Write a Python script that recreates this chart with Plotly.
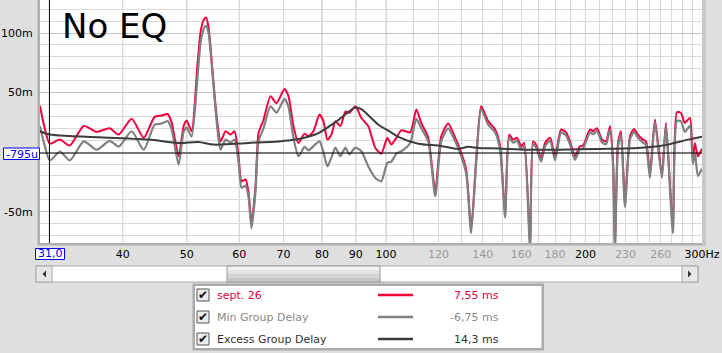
import math
import plotly.graph_objects as go

# ---------------- data ----------------
freq_hz = [29.99, 30.41, 31.04, 32.15, 33.28, 34.93, 36.55, 38.23, 39.45, 41.27,
           43.03, 44.70, 45.80, 46.77, 47.42, 48.59, 49.44, 49.96, 50.83, 51.90,
           52.45, 53.00, 53.46, 53.92, 54.49, 55.06, 55.64, 56.22, 57.21, 58.21,
           59.02, 59.85, 60.48, 61.32, 61.97, 62.62, 63.49, 64.16, 65.28, 66.89,
           68.30, 70.22, 71.20, 72.45, 73.72, 75.27, 76.32, 77.66, 79.30, 80.41,
           81.53, 82.67, 83.83, 85.30, 86.79, 88.00, 89.86, 91.75, 94.00, 96.32,
           98.35, 100.42, 101.82, 103.61, 105.42, 108.77, 111.06, 113.01, 115.79, 118.64,
           121.13, 124.11, 127.16, 129.39, 132.12, 134.43, 136.79, 139.18, 142.61, 146.11,
           148.67, 151.28, 153.40, 155.54, 157.72, 159.93, 161.61, 165.01, 166.74, 168.49,
           171.44, 173.84, 176.89, 179.99, 183.78, 186.99, 189.61, 192.93, 196.31, 198.37,
           203.25, 205.38, 208.25, 211.90, 214.86, 217.87, 220.15, 221.68, 224.00, 226.35,
           229.52, 233.54, 236.81, 240.13, 244.34, 246.89, 250.35, 254.74, 261.00, 264.66,
           271.16, 274.94, 278.79, 282.70, 287.66, 290.68, 292.70, 295.77, 300.0]

group_delay_ms = [39, 23, 7, 10.5, 5.5, 22, 17, 20, 14.7, 28,
                  12, 29.6, 30.7, 32, 25, -3.5, 21.7, 26.5, 17.5, 75,
                  101, 111, 113, 104.6, 77.7, 48, 23, 9, 17.5, 14.7,
                  17.5, -3.5, -24.5, -23, -34, -59.5, -28.7, 16, 27, 47,
                  41, 53, 47, 21.7, 7.7, 15.5, 13.3, 17.5, 31.5, 26,
                  10.5, 14.7, 26, 21.7, 34, 33, 38.5, 28.7, 21.7, 3.5,
                  -1.3, 12, 6.3, 12, 18.3, 16.6, 35.7, 24.5, 12, -33,
                  13.3, 24, 12, 2, -14.7, -64, -6.3, 38.5, 26, 19,
                  5, -52, 14.7, 10.5, 12, 5, 7.7, -78, 9, 6.3,
                  -5, 7.7, 12, -3, 19, 16.6, 9, -3.5, 5, 5.5,
                  19, 17.5, 20, 10.5, 9, 21.7, -6.3, -80, 7.7, 17.5,
                  -42, 13.3, 19.5, 14.7, 10.5, 9, -18, 27.3, -19, 24.5,
                  -64, 33.5, 33, 24.5, 28.7, -6.3, 7.7, -3.5, 3]

min_group_delay_ms = [22, 8, -7, 0.5, -7, 9, 2, 9.5, 4.6, 17.5,
                      2, 23, 24, 26, 19, -10.5, 17, 20.5, 13, 64,
                      92, 103, 106, 100, 75, 45, 18, 2, 10.5, 8,
                      10.5, -8, -30, -28, -38, -64, -33, 9, 20, 38.5,
                      33, 44.7, 38, 12, -3.5, 4.4, 1.5, 5, 9, 0,
                      -12, -4.6, 3.8, -3.5, 3.8, -2, 3.8, 0.7, -12, -21.7,
                      -24.5, -9, -8, -1.3, 0.7, 7.7, 28, 20, 9, -37,
                      9, 20, 9, -1, -18, -68, -9, 36, 23, 16.5,
                      2, -55, 12, 8, 9.5, 2, 5, -82, 6.5, 4,
                      -8, 5, 9.5, -7, 16.5, 14, 6.5, -6.5, 2.5, 3,
                      16.5, 15, 17.5, 8, 6.5, 19, -10, -84, 4, 15,
                      -46, 10.5, 17, 12, 8, 6, -21.7, 25, -21.7, 22,
                      -68, 26, 26, 17, 22, -10, 0, -20, -14]

excess_freq_hz = [29.99, 31.04, 33.28, 36.80, 43.78, 48.59, 52.09, 54.87, 61.97, 68.77,
                  73.72, 79.02, 84.71, 89.86, 91.75, 97.33, 100.77, 104.33, 111.84, 119.88,
                  128.50, 133.04, 137.74, 147.64, 163.87, 181.86, 208.98, 240.13, 257.41, 266.50,
                  285.67, 300.0]
excess_group_delay_ms = [17.5, 14.7, 13.5, 12.5, 10.5, 7.7, 8.5, 6.3, 7.7, 9,
                         11, 16, 27, 37.5, 36, 23, 18, 12.8, 7, 5.5,
                         2.7, 4.4, 3.5, 3, 2, 2, 2.7, 3.5, 5, 6.3,
                         10.5, 13]

series_names = ["sept. 26", "Min Group Delay", "Excess Group Delay"]
series_values = ["7,55 ms", "-6,75 ms", "14,3 ms"]
series_colors = ["#f2003c", "#808080", "#3c3c3c"]
legend_text_colors = ["#e8003a", "#8a8a8a", "#333333"]

x_tick_vals = [40, 50, 60, 70, 80, 90, 100, 120, 140, 160, 180, 200, 230, 260, 300]
x_tick_labels = ["40", "50", "60", "70", "80", "90", "100", "120", "140", "160", "180",
                 "200", "230", "260", "300Hz"]
x_dim_labels = [120, 140, 160, 180, 230, 260]
x_grid_minor = [30, 40, 50, 60, 70, 80, 90, 100, 110, 120, 130, 140, 150, 160, 170, 180,
                190, 200, 210, 220, 230, 240, 250, 260, 270, 280, 290, 300]
x_grid_major = [40, 50, 60, 70, 80, 90, 100, 200]
y_tick_vals = [-50, 50, 100]
y_tick_labels = ["-50m", "50m", "100m"]
cursor_hz = 31.0
cursor_ms = -0.795
cursor_x_text = "31,0"
cursor_y_text = "-795u"
title_text = "No EQ"

FONT = "DejaVu Sans"
W, H = 722, 353
PL, PR, PT, PB = 40, 702, 0, 243


def px(x):
    return (x - PL) / (PR - PL)


def py(y):
    return (PB - y) / (PB - PT)


fig = go.Figure()
fig.add_trace(go.Scatter(x=freq_hz, y=group_delay_ms, mode="lines",
                         line=dict(color=series_colors[0], width=2, shape="spline", smoothing=0.6),
                         name=series_names[0]))
fig.add_trace(go.Scatter(x=freq_hz, y=min_group_delay_ms, mode="lines",
                         line=dict(color=series_colors[1], width=2.2, shape="spline", smoothing=0.6),
                         name=series_names[1]))
fig.add_trace(go.Scatter(x=excess_freq_hz, y=excess_group_delay_ms, mode="lines",
                         line=dict(color=series_colors[2], width=2, shape="spline", smoothing=0.8),
                         name=series_names[2]))

tick_text = []
for v, t in zip(x_tick_vals, x_tick_labels):
    if v in x_dim_labels:
        tick_text.append('<span style="color:#9a9a9a">%s</span>' % t)
    else:
        tick_text.append(t)

fig.update_layout(
    width=W, height=H,
    margin=dict(l=PL, r=W - PR, t=PT, b=H - PB, pad=0),
    paper_bgcolor="#dfdfdf", plot_bgcolor="#ffffff",
    showlegend=False,
    font=dict(family=FONT, size=11, color="#000000"),
    xaxis=dict(type="log", range=[math.log10(30), math.log10(300.05)],
               tickvals=x_tick_vals, ticktext=tick_text,
               ticks="outside", ticklen=1, tickcolor="rgba(0,0,0,0)",
               tickfont=dict(family=FONT, size=11, color="#000000"),
               showgrid=True, gridcolor="#d9d9d9", gridwidth=1,
               minor=dict(tickvals=x_grid_minor, showgrid=True, gridcolor="#d9d9d9", gridwidth=1),
               showline=False, zeroline=False, fixedrange=True),
    yaxis=dict(range=[-76.3, 127.7],
               tickvals=y_tick_vals, ticktext=y_tick_labels,
               ticks="outside", ticklen=4, tickcolor="rgba(0,0,0,0)",
               tickfont=dict(family=FONT, size=11, color="#000000"),
               showgrid=True, gridcolor="#c4c4c4", gridwidth=1,
               minor=dict(dtick=10, tick0=0, showgrid=True, gridcolor="#d9d9d9", gridwidth=1),
               showline=False, zeroline=False, fixedrange=True),
)

shapes = []
# darker vertical grid lines
for g in x_grid_major:
    shapes.append(dict(type="line", xref="x", yref="paper", x0=g, x1=g, y0=0, y1=1,
                       line=dict(color="#c0c0c0", width=1), layer="below"))
# cursor lines
shapes.append(dict(type="line", xref="x", yref="paper", x0=cursor_hz, x1=cursor_hz, y0=0, y1=1,
                   line=dict(color="#000000", width=1)))
shapes.append(dict(type="line", xref="paper", yref="y", x0=0, x1=1, y0=cursor_ms, y1=cursor_ms,
                   line=dict(color="#000000", width=1)))

# plot frame
shapes.append(dict(type="rect", xref="paper", yref="paper", x0=px(37.5), x1=px(40), y0=py(245), y1=py(0),
                   fillcolor="#b0b0b0", line=dict(width=0)))
shapes.append(dict(type="rect", xref="paper", yref="paper", x0=px(37.5), x1=px(706), y0=py(245.5), y1=py(243),
                   fillcolor="#b0b0b0", line=dict(width=0)))
shapes.append(dict(type="rect", xref="paper", yref="paper", x0=px(702), x1=px(706), y0=py(245.5), y1=py(0),
                   fillcolor="#c8c8c8", line=dict(width=0)))

# cursor value boxes
shapes.append(dict(type="rect", xref="paper", yref="paper", x0=px(3.5), x1=px(39.5), y0=py(159.5), y1=py(148),
                   fillcolor="#ffffff", line=dict(color="#0000ff", width=1)))
shapes.append(dict(type="rect", xref="paper", yref="paper", x0=px(35.5), x1=px(64.5), y0=py(259.5), y1=py(248.5),
                   fillcolor="#ffffff", line=dict(color="#0000ff", width=1)))

# scrollbar
shapes.append(dict(type="rect", xref="paper", yref="paper", x0=px(36), x1=px(698), y0=py(282), y1=py(266),
                   fillcolor="#ffffff", line=dict(color="#a8a8a8", width=1)))
for bx0, bx1 in [(36, 52), (682, 698)]:
    shapes.append(dict(type="rect", xref="paper", yref="paper", x0=px(bx0), x1=px(bx1), y0=py(282), y1=py(266),
                       fillcolor="#e6e6e6", line=dict(color="#a8a8a8", width=1)))
shapes.append(dict(type="path", xref="paper", yref="paper",
                   path="M %f %f L %f %f L %f %f Z" % (px(46), py(270.5), px(42.5), py(274), px(46), py(277.5)),
                   fillcolor="#333333", line=dict(width=0)))
shapes.append(dict(type="path", xref="paper", yref="paper",
                   path="M %f %f L %f %f L %f %f Z" % (px(688), py(270.5), px(691.5), py(274), px(688), py(277.5)),
                   fillcolor="#333333", line=dict(width=0)))
thumb_bands = [(266, 270, "#f2f2f2"), (270, 274, "#e2e2e2"), (274, 278, "#d4d4d4"), (278, 282, "#c6c6c6")]
for y0, y1, c in thumb_bands:
    shapes.append(dict(type="rect", xref="paper", yref="paper", x0=px(227), x1=px(380), y0=py(y1), y1=py(y0),
                       fillcolor=c, line=dict(width=0)))
shapes.append(dict(type="rect", xref="paper", yref="paper", x0=px(227), x1=px(380), y0=py(282), y1=py(266),
                   fillcolor="rgba(0,0,0,0)", line=dict(color="#9a9a9a", width=1)))

# legend box
shapes.append(dict(type="rect", xref="paper", yref="paper", x0=px(192.5), x1=px(544), y0=py(350.5), y1=py(283.5),
                   fillcolor="#ababab", line=dict(width=0)))
shapes.append(dict(type="rect", xref="paper", yref="paper", x0=px(195), x1=px(541.5), y0=py(348), y1=py(286),
                   fillcolor="#ffffff", line=dict(width=0)))

annotations = []
row_y = [295, 317, 339]
for i in range(3):
    yc = row_y[i]
    shapes.append(dict(type="rect", xref="paper", yref="paper", x0=px(197), x1=px(209), y0=py(yc + 6), y1=py(yc - 6),
                       fillcolor="#ececec", line=dict(color="#555555", width=1)))
    shapes.append(dict(type="line", xref="paper", yref="paper", x0=px(378), x1=px(413), y0=py(yc), y1=py(yc),
                       line=dict(color=series_colors[i], width=2.5)))
    annotations.append(dict(xref="paper", yref="paper", x=px(203), y=py(yc), text="\u2714",
                            showarrow=False, xanchor="center", yanchor="middle",
                            font=dict(family=FONT, size=12, color="#111111")))
    annotations.append(dict(xref="paper", yref="paper", x=px(215), y=py(yc), text=series_names[i],
                            showarrow=False, xanchor="left", yanchor="middle",
                            font=dict(family=FONT, size=11, color=legend_text_colors[i])))
    annotations.append(dict(xref="paper", yref="paper", x=px(501), y=py(yc), text=series_values[i],
                            showarrow=False, xanchor="right", yanchor="middle",
                            font=dict(family=FONT, size=11, color=legend_text_colors[i])))

annotations.append(dict(xref="paper", yref="paper", x=px(60), y=py(25.5), text=title_text,
                        showarrow=False, xanchor="left", yanchor="middle",
                        font=dict(family=FONT, size=34, color="#000000")))
annotations.append(dict(xref="paper", yref="paper", x=px(21.5), y=py(154), text=cursor_y_text,
                        showarrow=False, xanchor="center", yanchor="middle",
                        font=dict(family=FONT, size=11, color="#0000ff")))
annotations.append(dict(xref="paper", yref="paper", x=px(50), y=py(254), text=cursor_x_text,
                        showarrow=False, xanchor="center", yanchor="middle",
                        font=dict(family=FONT, size=11, color="#0000ff")))

fig.update_layout(shapes=shapes, annotations=annotations)
fig.write_html("out.html")
